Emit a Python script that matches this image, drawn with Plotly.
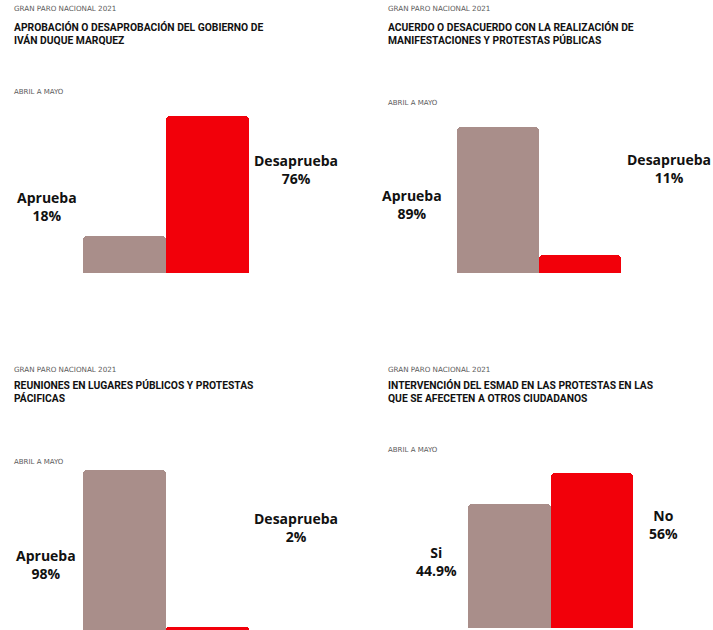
import plotly.graph_objects as go

W, H = 713, 630

header = "GRAN PARO NACIONAL 2021"
period = "ABRIL A MAYO"
titles = [
    "APROBACIÓN O DESAPROBACIÓN DEL GOBIERNO DE<br>IVÁN DUQUE MARQUEZ",
    "ACUERDO O DESACUERDO CON LA REALIZACIÓN DE<br>MANIFESTACIONES Y PROTESTAS PÚBLICAS",
    "REUNIONES EN LUGARES PÚBLICOS Y PROTESTAS<br>PÁCIFICAS",
    "INTERVENCIÓN DEL ESMAD EN LAS PROTESTAS EN LAS<br>QUE SE AFECETEN A OTROS CIUDADANOS",
]
cats1 = ["Aprueba", "Desaprueba"]
vals1 = [18, 76]
cats2 = ["Aprueba", "Desaprueba"]
vals2 = [89, 11]
cats3 = ["Aprueba", "Desaprueba"]
vals3 = [98, 2]
cats4 = ["Si", "No"]
vals4 = [44.9, 56]
val_labels4 = ["44.9%", "56%"]

colors = ["#A98E8A", "#F2000A"]

cats = [cats1, cats2, cats3, cats4]
vals = [vals1, vals2, vals3, vals4]
val_text = [[f"{v}%" for v in vals1], [f"{v}%" for v in vals2],
            [f"{v}%" for v in vals3], val_labels4]

# layout geometry in window pixels
panels = [
    dict(x0=83, x1=249, base=273, top=116, hx=12, hy=9, ty=33.5, py=92,
         l0=(47, 207), l1=(296, 170)),
    dict(x0=457, x1=621, base=273, top=127, hx=386, hy=9, ty=33.5, py=103,
         l0=(412, 205), l1=(669, 169)),
    dict(x0=83, x1=249, base=630, top=470, hx=12, hy=369, ty=392, py=462,
         l0=(46, 564), l1=(296, 527)),
    dict(x0=468, x1=633, base=628, top=473, hx=386, hy=369, ty=392, py=450,
         l0=(436, 561), l1=(663, 524)),
]

def px(x):
    return x / W

def py_(y):
    return 1 - y / H

fig = go.Figure()
annotations = []
for i, p in enumerate(panels):
    n = "" if i == 0 else str(i + 1)
    fig.add_trace(go.Bar(
        x=[0, 1], y=vals[i], width=1,
        marker=dict(color=colors, line=dict(width=0)),
        xaxis="x" + n, yaxis="y" + n, hoverinfo="skip", showlegend=False,
    ))
    fig.update_layout(**{
        "xaxis" + n: dict(domain=[px(p["x0"]), px(p["x1"])], range=[-0.5, 1.5],
                          visible=False, fixedrange=True),
        "yaxis" + n: dict(domain=[max(0, py_(p["base"])), py_(p["top"])],
                          range=[0, max(vals[i])], visible=False, fixedrange=True),
    })
    annotations.append(dict(text=header, x=px(p["hx"]), y=py_(p["hy"]),
                            xref="paper", yref="paper", xanchor="left", yanchor="middle",
                            showarrow=False, font=dict(family="DejaVu Sans", size=7.2, color="#5a5a5a")))
    annotations.append(dict(text=titles[i], x=px(p["hx"]), y=py_(p["ty"]),
                            xref="paper", yref="paper", xanchor="left", yanchor="middle",
                            align="left", showarrow=False,
                            font=dict(family="Roboto", size=10.3, color="#111111", weight="bold")))
    annotations.append(dict(text=period, x=px(p["hx"]), y=py_(p["py"]),
                            xref="paper", yref="paper", xanchor="left", yanchor="middle",
                            showarrow=False, font=dict(family="DejaVu Sans", size=7, color="#5a5a5a")))
    for j, key in enumerate(["l0", "l1"]):
        lx, ly = p[key]
        annotations.append(dict(text=f"{cats[i][j]}<br>{val_text[i][j]}",
                                x=px(lx), y=py_(ly), xref="paper", yref="paper",
                                xanchor="center", yanchor="middle", align="center",
                                showarrow=False,
                                font=dict(family="Open Sans", size=14, color="#111111", weight="bold")))

fig.update_layout(
    width=W, height=H, margin=dict(l=0, r=0, t=0, b=0),
    paper_bgcolor="white", plot_bgcolor="white",
    bargap=0, barcornerradius=4,
    annotations=annotations,
)
fig.write_html(
    "out.html",
    config={"displayModeBar": False},
    post_script="document.body.style.margin='0';document.body.style.overflow='hidden';",
)
